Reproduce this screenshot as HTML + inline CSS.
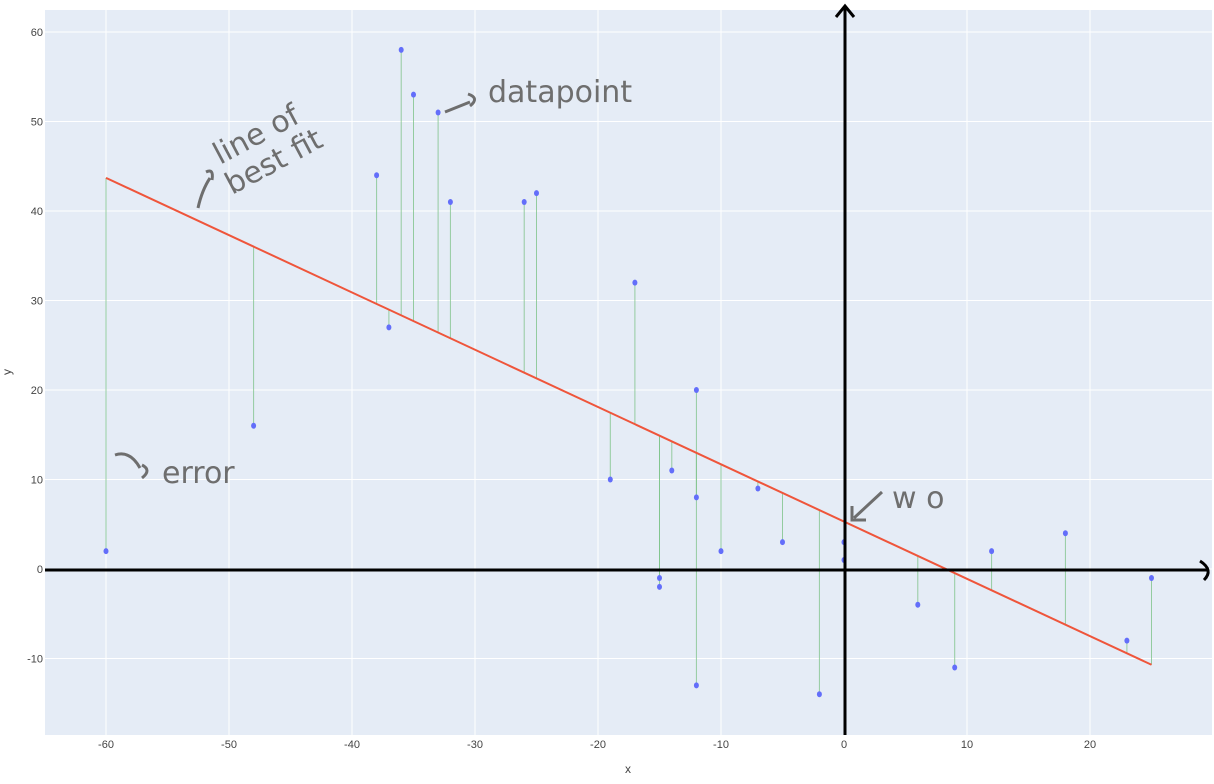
<!DOCTYPE html>
<html><head><meta charset="utf-8"><style>
body{margin:0;background:#fff;font-family:"Liberation Sans",sans-serif}
svg{display:block}
.hand{font-family:"DejaVu Sans","Liberation Sans",sans-serif;fill:#6e6e6e;font-size:30px}
</style></head><body>
<svg id="chart" width="1214" height="784">
<rect x="45" y="10" width="1167" height="725" fill="#e5ecf6"/>
<g id="grid"></g><g id="errs"></g><g id="fit"></g><g id="pts"></g><g id="ticks"></g>
<text x="628" y="773" font-size="12" fill="#444" text-anchor="middle">x</text>
<text x="11" y="372" font-size="12" fill="#444" text-anchor="middle" transform="rotate(-90 11 372)">y</text>
<line x1="45" y1="570" x2="1208" y2="570" stroke="#000" stroke-width="3"/>
<path d="M1200 561 Q1214 570 1204 580" fill="none" stroke="#000" stroke-width="3"/>
<line x1="845" y1="735" x2="845" y2="8" stroke="#000" stroke-width="3"/>
<path d="M836 17 L845 6 L854 17" fill="none" stroke="#000" stroke-width="3"/>
<g>
<text class="hand" transform="translate(220 165) rotate(-28)">line of</text>
<text class="hand" transform="translate(232 195) rotate(-28)">best fit</text>
<path d="M198 208 Q202 190 210 178 M206 172 Q214 168 212 180" fill="none" stroke="#6e6e6e" stroke-width="3"/>
</g>
<g>
<path d="M445 112 L470 102 M468 94 Q480 98 470 106" fill="none" stroke="#6e6e6e" stroke-width="3"/>
<text class="hand" x="488" y="102">datapoint</text>
</g>
<g>
<path d="M115 455 Q130 450 140 468 M142 465 Q152 470 142 478" fill="none" stroke="#6e6e6e" stroke-width="3"/>
<text class="hand" x="162" y="483">error</text>
</g>
<g>
<path d="M882 492 L854 518 M852 506 L852 520 L866 520" fill="none" stroke="#6e6e6e" stroke-width="3"/>
<text class="hand" x="892" y="508">w o</text>
</g>
</svg>
<script>
const xs=[-60,-48,-38,-37,-36,-35,-33,-32,-26,-25,-19,-17,-15,-15,-14,-12,-12,-12,-10,-7,-5,-2,0,0,6,9,12,18,23,25];
const ys=[2,16,44,27,58,53,51,41,41,42,10,32,-1,-2,11,20,8,-13,2,9,3,-14,3,1,-4,-11,2,4,-8,-1];
const slope=-0.64, intercept=5.3;
const xTicks=[-60,-50,-40,-30,-20,-10,0,10,20];
const yTicks=[-10,0,10,20,30,40,50,60];
const X=v=>844+(v)*12.3, Y=v=>569-v*8.95;
const NS="http://www.w3.org/2000/svg";
function mk(p,t,a){const e=document.createElementNS(NS,t);for(const k in a)e.setAttribute(k,a[k]);document.getElementById(p).appendChild(e);return e;}
xTicks.forEach(v=>{
 const g=mk('grid','line',{x1:X(v),x2:X(v),y1:10,y2:735,stroke:'#fff','stroke-width':1});
 
 
 const t=mk('ticks','text',{x:X(v),y:748,'font-size':11,fill:'#444','text-anchor':'middle'});t.textContent=v;
 
 
});
yTicks.forEach(v=>{
 const g=mk('grid','line',{x1:45,x2:1212,y1:Y(v),y2:Y(v),stroke:'#fff','stroke-width':1});
 
 
 const t=mk('ticks','text',{x:43,y:Y(v)+4,'font-size':11,fill:'#444','text-anchor':'end'});t.textContent=v;
 
 
});
xs.forEach((x,i)=>{
 const e=mk('errs','line',{x1:X(x),x2:X(x),y1:Y(ys[i]),y2:Y(slope*x+intercept),stroke:'#7fc48a','stroke-width':1,opacity:0.8});
 
 
 const p=mk('pts','ellipse',{cx:X(x),cy:Y(ys[i]),rx:2.5,ry:3,fill:'#636efa'});
 
 
});
const x0=Math.min(...xs),x1=Math.max(...xs);
const f=mk('fit','line',{x1:X(x0),y1:Y(slope*x0+intercept),x2:X(x1),y2:Y(slope*x1+intercept),stroke:'#ef553b','stroke-width':2});


</script>
</body></html>
